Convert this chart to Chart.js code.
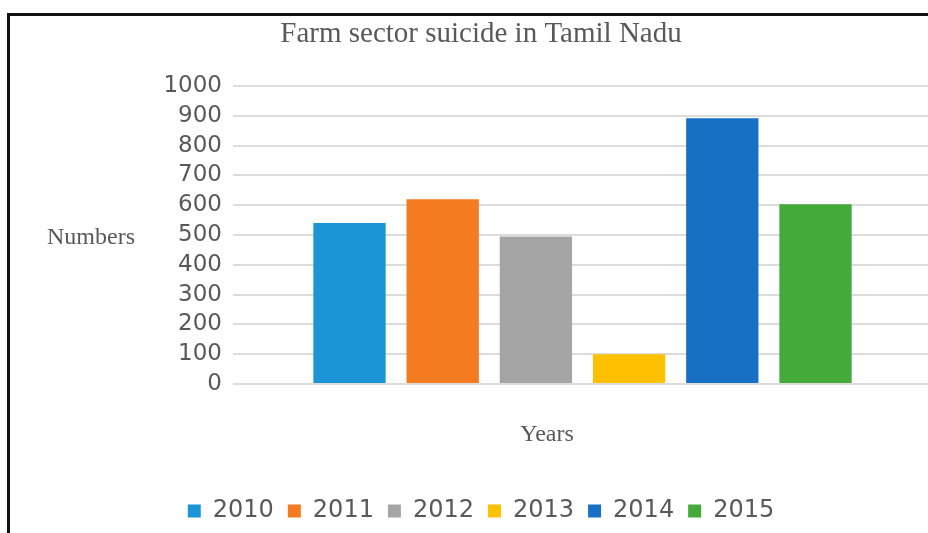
<!DOCTYPE html>
<html lang="en">
<head>
  <meta charset="UTF-8">
  <title>Farm sector suicide in Tamil Nadu</title>
  <script src="https://cdn.jsdelivr.net/npm/chart.js"></script>
  <style>
    html, body {
      margin: 0;
      padding: 0;
      width: 928px;
      height: 533px;
      overflow: hidden;
      background: #fff;
    }
    #frame {
      position: absolute;
      left: 7px;
      top: 13px;
      width: 1000px;
      height: 600px;
      border-left: 3px solid #111;
      border-top: 3px solid #111;
    }
    #wrap {
      position: absolute;
      left: 10px;
      top: 16px;
      width: 942px;
      height: 517px;
    }
  </style>
</head>
<body>
  <div id="frame"></div>
  <div id="wrap"><canvas id="grafico" width="942" height="517"></canvas></div>

  <script>
    // data
    const years = ["2010", "2011", "2012", "2013", "2014", "2015"];
    const suicides = [540, 620, 495, 100, 892, 603];
    const colours = ["#1b95d5", "#f47b20", "#a5a5a5", "#ffc000", "#1770c3", "#44ab3b"];
    const yTicks = [0, 100, 200, 300, 400, 500, 600, 700, 800, 900, 1000];

    const grey = "#595959";

    // axis titles drawn flat like the original (Numbers is not rotated)
    const axisNames = {
      id: "axisNames",
      afterDraw(chart) {
        const a = chart.chartArea;
        const ctx = chart.ctx;
        ctx.save();
        ctx.fillStyle = grey;
        ctx.font = '24px "Liberation Serif"';
        ctx.textAlign = "center";
        ctx.textBaseline = "middle";
        ctx.fillText("Numbers", a.left - 142, (a.top + a.bottom) / 2 + 3);
        ctx.fillText("Years", a.left + 314, a.bottom + 51);
        ctx.restore();
      }
    };

    const ctx = document.getElementById("grafico").getContext("2d");

    new Chart(ctx, {
      type: "bar",
      data: {
        labels: [""],
        datasets: years.map((y, i) => ({
          label: y,
          data: [suicides[i]],
          backgroundColor: colours[i],
          categoryPercentage: 0.8,
          barPercentage: 0.776
        }))
      },
      options: {
        responsive: false,
        animation: false,
        layout: { padding: { left: 20, right: 20, top: 0, bottom: 0 } },
        plugins: {
          title: {
            display: true,
            text: "Farm sector suicide in Tamil Nadu",
            color: grey,
            font: { family: '"Liberation Serif"', size: 29, weight: "normal" },
            padding: { top: 1, bottom: 34.2 }
          },
          legend: {
            position: "bottom",
            labels: {
              color: grey,
              font: { family: '"DejaVu Sans"', size: 24 },
              boxWidth: 13,
              boxHeight: 13,
              padding: 14
            }
          },
          tooltip: { enabled: false }
        },
        scales: {
          x: {
            ticks: { display: false },
            grid: { display: false },
            border: { display: false },
            afterFit(s) { s.height = 101; }
          },
          y: {
            min: 0,
            max: 1000,
            afterBuildTicks(s) { s.ticks = yTicks.map(v => ({ value: v })); },
            afterFit(s) { s.width = 203; },
            ticks: {
              color: grey,
              padding: 11,
              autoSkip: false,
              font: { family: '"DejaVu Sans"', size: 23 },
              callback: v => String(v)
            },
            grid: { color: "#dcdcdc", lineWidth: 2, drawTicks: false },
            border: { display: false }
          }
        }
      },
      plugins: [axisNames]
    });
  </script>
</body>
</html>
